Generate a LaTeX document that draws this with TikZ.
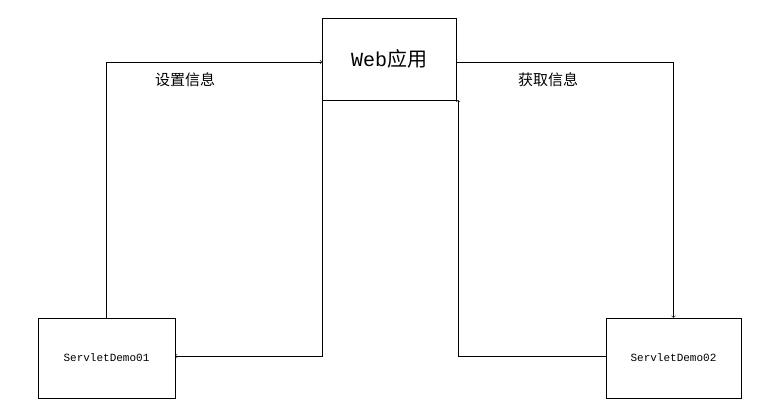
\documentclass[tikz,border=0pt]{standalone}
\usepackage{fontspec}
\setmonofont{Liberation Mono}
\newfontfamily\cjk{Noto Sans CJK SC}
\usetikzlibrary{positioning}
\tikzset{box/.style={draw, inner sep=0pt}, conn/.style={->, semithick}}
\begin{document}
\begin{tikzpicture}[x=1pt, y=-1pt]
\useasboundingbox (0,0) rectangle (766,414);
\node[box, minimum width=134pt, minimum height=82pt] (web) at (389,59) {\fontsize{20}{22}\selectfont\ttfamily Web\cjk 应用};
\node[box, minimum width=137pt, minimum height=80pt] (demo1) at (106.5,358) {\fontsize{11}{13}\selectfont\ttfamily ServletDemo01};
\node[box, minimum width=135pt, minimum height=80pt] (demo2) at (673.5,358) {\fontsize{11}{13}\selectfont\ttfamily ServletDemo02};
\coordinate (wl) at (322,62);
\coordinate (wr) at (456,62);
\coordinate (wbl) at (322,100);
\coordinate (wbr) at (458,100);
\draw[conn] (demo1.north) |- (wl);
\draw[conn] (wbl) |- (demo1.east |- 0,356);
\draw[conn] (wr) -| (demo2.north);
\draw[conn] (demo2.west |- 0,356) -| (wbr);
\node[font=\cjk\fontsize{15}{17}\selectfont] (set) at (185,80) {设置信息};
\node[font=\cjk\fontsize{15}{17}\selectfont] (get) at (548,80) {获取信息};
\end{tikzpicture}
\end{document}
